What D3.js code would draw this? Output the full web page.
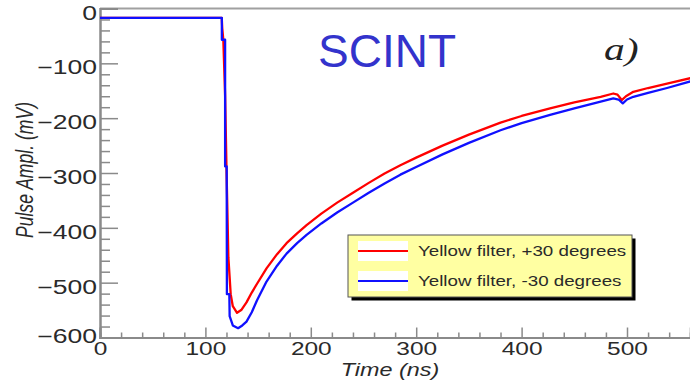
<!DOCTYPE html>
<html>
<head>
<meta charset="utf-8">
<script src="https://cdn.jsdelivr.net/npm/d3@7"></script>
<style>
  body { margin: 0; background: #fff; }
  svg { display: block; font-family: "Liberation Sans", Arial, sans-serif; }
</style>
</head>
<body>
<svg width="690" height="381"></svg>
<script>
// time (ns), amplitude (mV)
const redSeries = [
  [0, -17], [115.5, -17], [116, -36], [117, -57], [118.7, -158], [120, -290],
  [121.8, -454], [124, -521], [126, -543], [130, -555], [134, -550], [139, -536],
  [144, -518], [149, -502], [158, -474], [168, -448], [177, -428], [187, -410],
  [196, -395], [210, -374], [225, -354], [240, -336], [255, -318], [270, -301],
  [285, -286], [300, -272], [325, -250], [350, -230], [380, -208], [400, -196],
  [427, -182], [450, -171], [475, -161], [487, -155], [491, -157], [495, -167],
  [499, -160], [506, -152], [520, -145], [538, -137], [560, -127]
];
const blueSeries = [
  [0, -17], [115.6, -17], [115.6, -57], [118.7, -57], [118.7, -288], [120.2, -288],
  [120.4, -521], [122.7, -521], [123, -561], [126, -578], [131, -583], [135, -578],
  [139, -571], [144, -554], [149, -532], [158, -498], [168, -469], [177, -447],
  [187, -428], [196, -413], [210, -392], [225, -372], [240, -354], [255, -336],
  [270, -319], [285, -303], [300, -289], [325, -266], [350, -245], [380, -222],
  [400, -209], [427, -194], [450, -182], [475, -170], [487, -164], [492, -166],
  [496, -173], [500, -166], [506, -161], [520, -154], [538, -145], [560, -133]
];
const xMajor = [0, 100, 200, 300, 400, 500];
const yMajor = [0, -100, -200, -300, -400, -500, -600];
const legendLabels = ['Yellow filter, +30 degrees', 'Yellow filter, -30 degrees'];
const seriesColors = ['#ff0000', '#1010ff'];

const svg = d3.select('svg');
const plotLeft = 100, plotTop = 8.5, plotBottom = 337.5;

const x = d3.scaleLinear().domain([0, 560]).range([plotLeft, plotLeft + 560 * 1.054]);
const y = d3.scaleLinear().domain([-600, 0]).range([plotBottom, plotTop]);

const xMinor = d3.range(0, 561, 20).filter(v => v % 100 !== 0);
const yMinor = d3.range(-600, 1, 20).filter(v => v % 100 !== 0);

// top frame
svg.append('line')
  .attr('x1', plotLeft).attr('x2', 690).attr('y1', plotTop).attr('y2', plotTop)
  .attr('stroke', '#a0a0a0').attr('stroke-width', 2);

// y axis
const yAxis = svg.append('g').attr('transform', `translate(${plotLeft},0)`);
yAxis.append('g').call(d3.axisLeft(y).tickValues(yMinor).tickSize(-10).tickFormat(''));
yAxis.append('g').call(d3.axisLeft(y).tickValues(yMajor).tickSize(-18).tickPadding(3));
yAxis.selectAll('.domain').attr('stroke', '#8a8a8a').attr('stroke-width', 2);
yAxis.selectAll('.tick line').attr('stroke', '#8a8a8a').attr('stroke-width', 1.5);
yAxis.selectAll('.tick text')
  .attr('font-size', 19.5).attr('fill', '#2a2a2a')
  .attr('x', -3 / 1.36).attr('dy', 0)
  .attr('y', d => d === -600 ? 4.5 : 10.5)
  .attr('transform', 'scale(1.36,1)');

// x axis
const xAxis = svg.append('g').attr('transform', `translate(0,${plotBottom})`);
xAxis.append('g').call(d3.axisBottom(x).tickValues(xMinor).tickSize(-5).tickFormat(''));
xAxis.append('g').call(d3.axisBottom(x).tickValues(xMajor).tickSize(-10));
xAxis.selectAll('.domain').attr('stroke', '#8a8a8a').attr('stroke-width', 2);
xAxis.selectAll('.tick line').attr('stroke', '#8a8a8a').attr('stroke-width', 1.5);
xAxis.selectAll('.tick text')
  .attr('font-size', 17.5).attr('fill', '#2a2a2a')
  .attr('y', 18).attr('dy', 0)
  .attr('transform', 'scale(1.4,1)');

// axis titles
svg.append('text')
  .attr('transform', 'translate(390,376) scale(1.3,1)')
  .attr('text-anchor', 'middle')
  .attr('font-size', 18).attr('font-style', 'italic').attr('fill', '#2a2a2a')
  .text('Time (ns)');
svg.append('text')
  .attr('transform', 'translate(33,170) rotate(-90) scale(1,1.35)')
  .attr('text-anchor', 'middle')
  .attr('font-size', 17.6).attr('font-style', 'italic').attr('fill', '#2a2a2a')
  .text('Pulse Ampl. (mV)');

// curves
const line = d3.line().x(d => x(d[0])).y(d => y(d[1]));
[redSeries, blueSeries].forEach((s, i) => {
  svg.append('path')
    .datum(s)
    .attr('d', line)
    .attr('fill', 'none')
    .attr('stroke', seriesColors[i])
    .attr('stroke-width', 2.3)
    .attr('stroke-linejoin', 'round');
});

// annotations
svg.append('text')
  .attr('x', 318).attr('y', 67)
  .attr('font-size', 46).attr('fill', '#3333cc')
  .text('SCINT');
svg.append('text')
  .attr('transform', 'translate(604,60) scale(1.3,1)')
  .attr('font-family', '"Liberation Serif", "Times New Roman", serif')
  .attr('font-size', 32).attr('font-style', 'italic').attr('fill', '#222')
  .text('a)');

// legend
const lg = svg.append('g').attr('transform', 'translate(348,235)');
lg.append('rect').attr('x', 3.5).attr('y', 3.5).attr('width', 284).attr('height', 62).attr('fill', '#000');
lg.append('rect').attr('width', 284).attr('height', 62)
  .attr('fill', '#ffffa2').attr('stroke', '#555').attr('stroke-width', 1);
legendLabels.forEach((lab, i) => {
  const row = lg.append('g').attr('transform', `translate(0,${16 + i * 30})`);
  row.append('rect').attr('x', 10).attr('y', -10).attr('width', 50).attr('height', 20).attr('fill', '#fff');
  row.append('line').attr('x1', 10).attr('x2', 60).attr('y1', 0).attr('y2', 0)
    .attr('stroke', seriesColors[i]).attr('stroke-width', 2);
  row.append('text')
    .attr('transform', 'translate(70,5) scale(1.25,1)')
    .attr('font-size', 15).attr('fill', '#2a2a2a')
    .text(lab);
});
</script>
</body>
</html>
